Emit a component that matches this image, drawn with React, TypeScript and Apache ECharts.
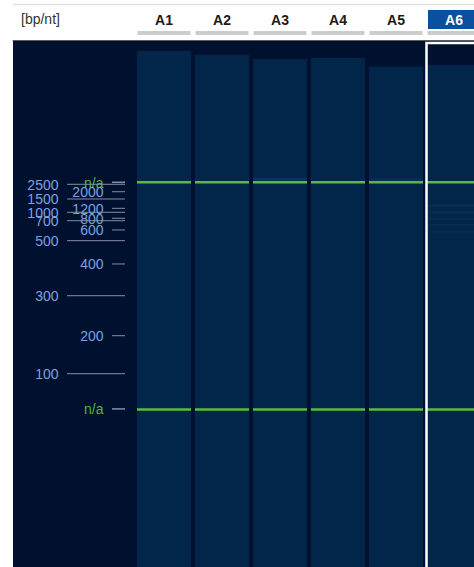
import React, { useEffect, useRef } from "react";
import * as echarts from "echarts";

// Lanes and gel data (migration in % of gel height, 0 = top of gel window)
const lanes = ["A1", "A2", "A3", "A4", "A5", "A6"];
const selectedLane = "A6";
const laneTop = [2.1, 2.85, 3.65, 3.4, 5.05, 4.75];
const laneBottom = [100, 100, 100, 100, 100, 100];
const upperMarker = [27.0, 27.0, 27.0, 27.0, 27.0, 27.0];
const lowerMarker = [70.1, 70.1, 70.1, 70.1, 70.1, 70.1];

// faint background bands (lane index, migration, opacity)
const faintLane = [2, 4, 5, 5, 5, 5, 5];
const faintPos = [26.4, 26.5, 31.4, 32.7, 33.9, 35.1, 36.4];
const faintAlpha = [0.16, 0.1, 0.1, 0.08, 0.07, 0.06, 0.05];

// Ladder
const ladderLabels = ["n/a", "2500", "2000", "1500", "1200", "1000", "800", "700", "600", "500", "400", "300", "200", "100", "n/a"];
const ladderPos = [27.0, 27.38, 28.79, 30.17, 31.94, 32.69, 33.83, 34.29, 36.05, 38.08, 42.5, 48.52, 56.11, 63.32, 70.0];
const ladderKind = ["marker", "long", "short", "long", "short", "long", "short", "long", "short", "long", "short", "long", "short", "long", "marker"];

const FONT = '"Liberation Sans", Arial, sans-serif';
const BG = "#00102f";
const LANE = "#02254a";
const GREEN = "#5cbb3e";
const LADDER_TEXT = "#7aa2e2";
const LADDER_LINE = "#858ea2";

export default function App() {
  const ref = useRef<HTMLDivElement>(null);
  useEffect(() => {
    if (!ref.current) return;
    const chart = echarts.init(ref.current, null, { renderer: "svg" });

    const laneRect = (params: any, api: any) => {
      const i = api.value(0);
      const p1 = api.coord([i, api.value(1)]);
      const p2 = api.coord([i, api.value(2)]);
      const bw = api.size([1, 0])[0];
      const w = bw - 4;
      return {
        type: "rect",
        shape: { x: p1[0] - w / 2, y: p1[1], width: w, height: p2[1] - p1[1] },
        style: { fill: LANE },
      };
    };

    const bandRect = (color: string, h: number) => (params: any, api: any) => {
      const i = api.value(0);
      const p = api.coord([i, api.value(1)]);
      const bw = api.size([1, 0])[0];
      const w = bw - 4;
      const a = api.value(2);
      return {
        type: "rect",
        shape: { x: p[0] - w / 2, y: p[1] - h / 2, width: w, height: h },
        style: { fill: color, opacity: isNaN(a) ? 1 : a },
      };
    };

    const option: any = {
      animation: false,
      backgroundColor: "#ffffff",
      title: {
        text: "[bp/nt]",
        left: 21,
        top: 12,
        padding: 0,
        textStyle: { fontFamily: FONT, fontSize: 14, fontWeight: "normal", color: "#333333" },
      },
      graphic: [
        {
          type: "line",
          shape: { x1: 13, y1: 4.5, x2: 474, y2: 4.5 },
          style: { stroke: "#e2e2e2", lineWidth: 1.5 },
        },
      ],
      grid: [
        { left: 135, top: 40, width: 348, bottom: 0, show: true, backgroundColor: BG, borderWidth: 0, outerBoundsMode: "none", containLabel: false },
        { left: 13, top: 40, width: 122, bottom: 0, show: true, backgroundColor: BG, borderWidth: 0, outerBoundsMode: "none", containLabel: false },
      ],
      xAxis: [
        {
          type: "category",
          gridIndex: 0,
          position: "top",
          data: lanes,
          axisTick: { show: false },
          axisLine: { show: true, onZero: false, lineStyle: { color: "#5a5a5a", width: 1 } },
          splitLine: { show: false },
          axisLabel: {
            interval: 0,
            margin: 5,
            fontFamily: FONT,
            formatter: (v: string) => (v === selectedLane ? `{sel|${v}}\n{bar| }` : `{name|${v}}\n{bar| }`),
            rich: {
              name: { fontFamily: FONT, fontSize: 14, fontWeight: "bold", color: "#1a1a1a", height: 19, lineHeight: 23, align: "center" },
              sel: {
                fontFamily: FONT, fontSize: 14, fontWeight: "bold", color: "#ffffff",
                backgroundColor: "#0b4fa0", width: 52, height: 19, lineHeight: 23, align: "center",
              },
              bar: { backgroundColor: "#cccccc", width: 53, height: 4, lineHeight: 4, fontSize: 1, color: "transparent" },
            },
          },
        },
        {
          type: "value",
          gridIndex: 1,
          position: "top",
          min: 0,
          max: 1,
          axisTick: { show: false },
          axisLabel: { show: false },
          splitLine: { show: false },
          axisLine: { show: true, onZero: false, lineStyle: { color: "#5a5a5a", width: 1 } },
        },
      ],
      yAxis: [
        { type: "value", gridIndex: 0, min: 0, max: 100, inverse: true, show: false },
        { type: "value", gridIndex: 1, min: 0, max: 100, inverse: true, show: false },
      ],
      series: [
        {
          type: "custom",
          name: "lanes",
          xAxisIndex: 0,
          yAxisIndex: 0,
          renderItem: laneRect,
          data: lanes.map((_, i) => [i, laneTop[i], laneBottom[i]]),
          silent: true,
        },
        {
          type: "custom",
          name: "faint",
          xAxisIndex: 0,
          yAxisIndex: 0,
          renderItem: bandRect("#4a8fd8", 2),
          data: faintLane.map((l, i) => [l, faintPos[i], faintAlpha[i]]),
          silent: true,
        },
        {
          type: "custom",
          name: "upper marker",
          xAxisIndex: 0,
          yAxisIndex: 0,
          renderItem: bandRect(GREEN, 2.6),
          data: lanes.map((_, i) => [i, upperMarker[i], 1]),
          silent: true,
        },
        {
          type: "custom",
          name: "lower marker",
          xAxisIndex: 0,
          yAxisIndex: 0,
          renderItem: bandRect(GREEN, 2.6),
          data: lanes.map((_, i) => [i, lowerMarker[i], 1]),
          silent: true,
        },
        {
          type: "custom",
          name: "selection",
          xAxisIndex: 0,
          yAxisIndex: 0,
          renderItem: (params: any, api: any) => {
            const i = api.value(0);
            const p = api.coord([i, 0.57]);
            const bw = api.size([1, 0])[0];
            return {
              type: "rect",
              shape: { x: p[0] - bw / 2 + 1.5, y: p[1], width: bw, height: 600 },
              style: { fill: "none", stroke: "#ffffff", lineWidth: 2.5 },
            };
          },
          data: [[lanes.indexOf(selectedLane)]],
          silent: true,
        },
        {
          type: "custom",
          name: "ladder",
          xAxisIndex: 1,
          yAxisIndex: 1,
          renderItem: (params: any, api: any) => {
            const idx = params.dataIndex;
            const kind = ladderKind[idx];
            const cs = params.coordSys;
            const y = api.coord([0, api.value(0)])[1];
            const x0 = cs.x;
            const long = kind === "long";
            const lineX1 = x0 + (long ? 54 : 99);
            const lineX2 = x0 + 112;
            const textX = x0 + (long ? 45.5 : 90.5);
            return {
              type: "group",
              children: [
                {
                  type: "line",
                  shape: { x1: lineX1, y1: y, x2: lineX2, y2: y },
                  style: { stroke: LADDER_LINE, lineWidth: kind === "marker" ? 1.5 : 1 },
                },
                {
                  type: "text",
                  x: textX,
                  y: y + 0.5,
                  style: {
                    text: ladderLabels[idx],
                    fill: kind === "marker" ? "#4cb83a" : LADDER_TEXT,
                    fontFamily: FONT,
                    fontSize: 14,
                    align: "right",
                    verticalAlign: "middle",
                  },
                },
              ],
            };
          },
          data: ladderPos.map((p) => [p]),
          silent: true,
        },
      ],
    };
    chart.setOption(option);
    return () => chart.dispose();
  }, []);

  return <div ref={ref} style={{ position: "absolute", left: 0, top: 0, width: 474, height: 567 }} />;
}
